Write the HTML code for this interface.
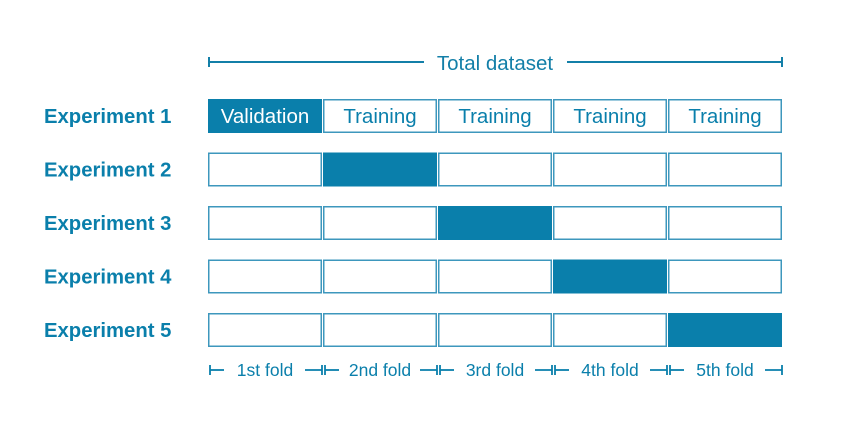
<!DOCTYPE html>
<html><head><meta charset="utf-8"><style>
body{margin:0;background:#fff;width:855px;height:417px;overflow:hidden}
svg text{font-family:"Liberation Sans",sans-serif}
</style></head><body>
<svg width="855" height="417">
<g id="top" stroke="#137fa8" stroke-width="2">
<line x1="209" y1="62" x2="424" y2="62"/><line x1="209" y1="57" x2="209" y2="67"/>
<line x1="567" y1="62" x2="782" y2="62"/><line x1="782" y1="57" x2="782" y2="67"/>
</g>
<text x="495" y="70" text-anchor="middle" font-size="20.5" fill="#137fa8">Total dataset</text>
<g id="grid"></g>
<g id="folds"></g>
</svg>
<script>
const experiments=["Experiment 1","Experiment 2","Experiment 3","Experiment 4","Experiment 5"];
const folds=["1st fold","2nd fold","3rd fold","4th fold","5th fold"];
const validationFold=[0,1,2,3,4];
const C="#0a7fab",NS="http://www.w3.org/2000/svg";
const x0=208,pitchX=115,bw=114,y0=99,pitchY=53.5,bh=34;
const grid=document.getElementById('grid'),fg=document.getElementById('folds');
function mk(t,a,p){const e=document.createElementNS(NS,t);for(const k in a)e.setAttribute(k,a[k]);p.appendChild(e);return e;}
experiments.forEach((name,r)=>{
  const y=y0+r*pitchY;
  const lab=mk('text',{x:44,y:y+bh/2+7,'font-size':20.3,'font-weight':'bold',fill:C},grid);
  lab.textContent=name;
  
  
  folds.forEach((f,c)=>{
    const x=x0+c*pitchX,v=validationFold[r]===c;
    const rc=mk('rect',{x:x+0.75,y:y+0.75,width:bw-1.5,height:bh-1.5,fill:v?C:'#fff',stroke:v?C:'#3d97bd','stroke-width':1.5},grid);
    
    
    if(r===0){const t=mk('text',{x:x+bw/2,y:y+bh/2+7,'text-anchor':'middle','font-size':20.5,fill:v?'#fff':C},grid);
      t.textContent=v?'Validation':'Training';
      
      }
  });
});
folds.forEach((f,c)=>{
  const x=x0+c*pitchX,y=370,cx=x+bw/2;
  const t=mk('text',{x:cx,y:y+6,'text-anchor':'middle','font-size':17.5,fill:C},fg);
  t.textContent=f;
  
  
  const g=mk('g',{stroke:C,'stroke-width':1.8},fg);
  
  
  mk('line',{x1:x+2,y1:y,x2:x+16,y2:y},g);mk('line',{x1:x+2,y1:y-5,x2:x+2,y2:y+5},g);
  mk('line',{x1:x+bw-17,y1:y,x2:x+bw,y2:y},g);mk('line',{x1:x+bw,y1:y-5,x2:x+bw,y2:y+5},g);
});
</script>
</body></html>
